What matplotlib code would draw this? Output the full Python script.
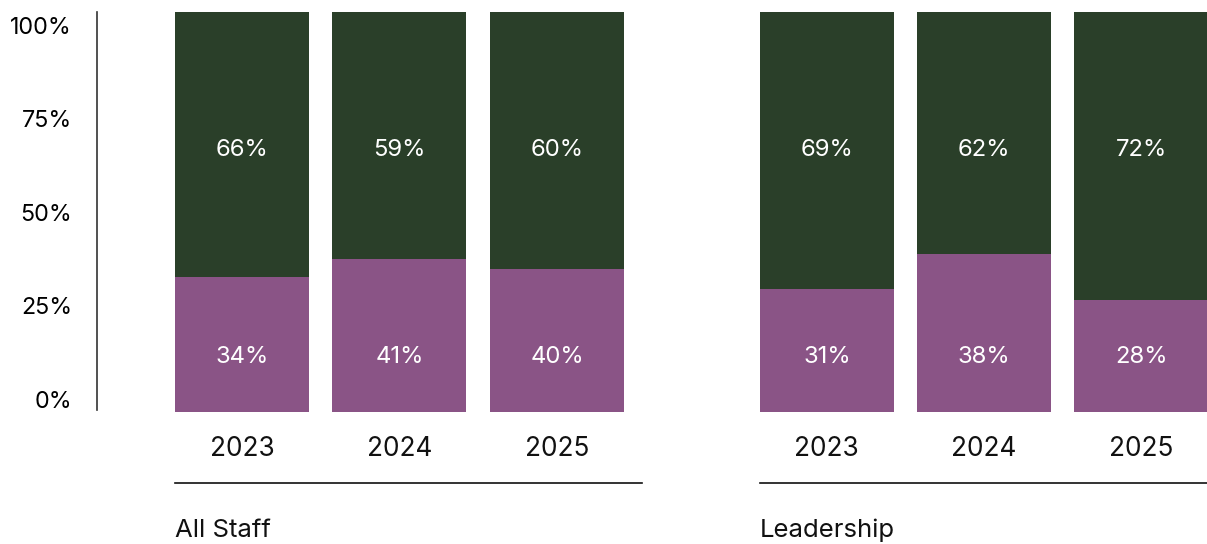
import matplotlib
matplotlib.use("Agg")
import matplotlib.pyplot as plt

plt.rcParams['font.family'] = ['Inter', 'DejaVu Sans']

years = ["2023", "2024", "2025"]
panels = ["All Staff", "Leadership"]
# purple share (as drawn) and its labels
purple_vals = {
    "All Staff": [33.75, 38.25, 35.75],
    "Leadership": [30.75, 39.5, 28.0],
}
purple_labels = {
    "All Staff": ["34%", "41%", "40%"],
    "Leadership": ["31%", "38%", "28%"],
}
green_labels = {
    "All Staff": ["66%", "59%", "60%"],
    "Leadership": ["69%", "62%", "72%"],
}
ytick_vals = [0, 25, 50, 75, 100]
ytick_labels = ["0%", "25%", "50%", "75%", "100%"]

GREEN = "#2a3f29"
PURPLE = "#8a5486"

W, H = 1207, 544
fig = plt.figure(figsize=(W / 100, H / 100), dpi=100)

# y axis
axy = fig.add_axes([97 / W, (H - 410) / H, 0.001, 398 / H])
axy.set_ylim(-2.94, 103.48)
axy.set_yticks(ytick_vals)
axy.set_yticklabels(ytick_labels, fontsize=16.8)
axy.tick_params(axis='y', length=0, pad=18)
axy.set_xticks([])
for s in ["top", "right", "bottom"]:
    axy.spines[s].set_visible(False)
axy.spines["left"].set_linewidth(1.2)
axy.spines["left"].set_color("#333333")

panel_geom = {"All Staff": (175, 467, 2.54), "Leadership": (760, 447, 2.42)}
width = 0.851
for name in panels:
    left, wpx, xmax = panel_geom[name]
    ax = fig.add_axes([left / W, (H - 483) / H, wpx / W, 471 / H])
    x = list(range(len(years)))
    p = purple_vals[name]
    g = [100 - v for v in p]
    ax.bar(x, p, width=width, color=PURPLE)
    ax.bar(x, g, bottom=p, width=width, color=GREEN)
    for i in x:
        ax.text(i, 13.75, purple_labels[name][i], ha='center', va='center',
                color='white', fontsize=17.2)
        ax.text(i, 65.5, green_labels[name][i], ha='center', va='center',
                color='white', fontsize=17.2)
        ax.text(i, -9.2, years[i], ha='center', va='center',
                color='#111111', fontsize=18.9)
    ax.set_xlim(-width / 2, xmax)
    ax.set_ylim(-17.75, 100)
    ax.set_xticks([])
    ax.set_yticks([])
    for s in ["top", "right", "left"]:
        ax.spines[s].set_visible(False)
    ax.spines["bottom"].set_linewidth(1.2)
    ax.spines["bottom"].set_color("#111111")
    ax.text(0, -0.1, name, transform=ax.transAxes, ha='left', va='center',
            fontsize=18.5, color='#111111')

fig.savefig("out.png", dpi=100)
